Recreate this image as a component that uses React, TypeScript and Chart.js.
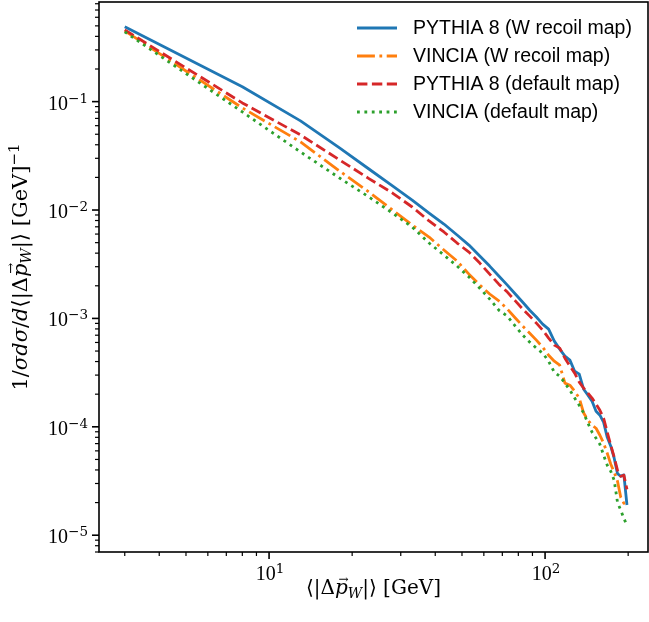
import React, { useEffect, useRef } from 'react';
import { Chart, registerables } from 'chart.js';

Chart.register(...registerables);

// ---------- data ----------
const xValues = [3, 8, 13, 18, 23, 28, 33, 38, 43, 48, 53, 58, 63, 68, 73, 78, 83, 88, 93, 98,
  103, 108, 113, 118, 123, 128, 133, 138, 143, 148, 153, 158, 163, 168, 173, 178, 183, 188, 193, 198];

const pythiaWRecoil = [0.49, 0.137, 0.0664, 0.0374, 0.0239, 0.0167, 0.01236, 0.00938, 0.00743, 0.00588,
  0.00475, 0.00376, 0.00304, 0.00246, 0.00203, 0.00168, 0.00141, 0.00119, 0.00103, 8.85e-4,
  7.96e-4, 6.17e-4, 5.21e-4, 4.49e-4, 4.12e-4, 3.26e-4, 3.06e-4, 2.22e-4, 1.96e-4, 1.72e-4,
  1.39e-4, 1.28e-4, 1.1e-4, 8.0e-5, 6.62e-5, 5.13e-5, 3.7e-5, 3.5e-5, 3.6e-5, 1.9e-5];

const vinciaWRecoil = [0.45, 0.0875, 0.0425, 0.0229, 0.01466, 0.01, 0.00727, 0.00563, 0.00428, 0.00338,
  0.00256, 0.00203, 0.00168, 0.00145, 0.00122, 0.00101, 8.49e-4, 7.31e-4, 6.31e-4, 5.43e-4,
  4.58e-4, 4.03e-4, 3.7e-4, 2.53e-4, 2.42e-4, 2.13e-4, 1.84e-4, 1.34e-4, 1.15e-4, 1.035e-4,
  9.7e-5, 8.36e-5, 7.06e-5, 5.7e-5, 4.52e-5, 3.81e-5, 3.15e-5, 2.24e-5, 1.97e-5, 2.06e-5];

const pythiaDefault = [0.459, 0.0973, 0.0493, 0.029, 0.0195, 0.01435, 0.01066, 0.00792, 0.00627, 0.00496,
  0.00409, 0.00324, 0.00256, 0.00207, 0.00175, 0.00145, 0.00122, 0.00105, 9.05e-4, 7.8e-4,
  6.58e-4, 5.67e-4, 5.32e-4, 4.3e-4, 3.63e-4, 3.13e-4, 2.58e-4, 2.27e-4, 2.04e-4, 1.84e-4,
  1.62e-4, 1.42e-4, 1.2e-4, 8.91e-5, 6.76e-5, 5.24e-5, 3.97e-5, 3.5e-5, 3.57e-5, 2.65e-5];

const vinciaDefault = [0.44, 0.0803, 0.0343, 0.01974, 0.01318, 0.00938, 0.00697, 0.00496, 0.00384, 0.00304,
  0.00241, 0.0019, 0.00151, 0.00119, 0.00105, 8.49e-4, 7.01e-4, 6.04e-4, 5.32e-4, 4.79e-4,
  4.03e-4, 3.19e-4, 2.93e-4, 2.53e-4, 2.18e-4, 1.84e-4, 1.58e-4, 1.34e-4, 1.08e-4, 8.91e-5,
  7.85e-5, 6.9e-5, 5.47e-5, 4.42e-5, 3.89e-5, 3.21e-5, 2.01e-5, 1.7e-5, 1.43e-5, 1.23e-5];

const seriesLabels = ['PYTHIA 8 (W recoil map)', 'VINCIA (W recoil map)', 'PYTHIA 8 (default map)', 'VINCIA (default map)'];

// tick labels: base and exponent
const xMajorTicks = [10, 100];
const xMajorExponents = ['1', '2'];
const yMajorTicks = [1e-5, 1e-4, 1e-3, 1e-2, 1e-1];
const yMajorExponents = ['−5', '−4', '−3', '−2', '−1'];

// ---------- styles ----------
const W = 649;
const H = 622;
const LW = 2.8;
const seriesColors = ['#1f77b4', '#ff7f0e', '#d62728', '#2ca02c'];
const seriesDash: number[][] = [[], [17.9, 4.5, 2.8, 4.5], [10.4, 4.5], [2.8, 4.6]];
const SERIF = '"Liberation Serif", "DejaVu Serif", serif';
const DSERIF = '"DejaVu Serif", serif';
const SANS = '"Liberation Sans", Arial, sans-serif';

type Seg = { t: string; italic?: boolean; size: number; dy: number; arrow?: boolean; family?: string };

function segFont(s: Seg) {
  return `${s.italic ? 'italic ' : ''}${s.size}px ${s.family || DSERIF}`;
}

function measureRich(ctx: CanvasRenderingContext2D, segs: Seg[]) {
  return segs.map((s) => {
    ctx.font = segFont(s);
    return ctx.measureText(s.t).width;
  });
}

function drawRichAt(ctx: CanvasRenderingContext2D, segs: Seg[], startX: number, baseline: number) {
  const widths = measureRich(ctx, segs);
  let x = startX;
  ctx.textAlign = 'left';
  ctx.textBaseline = 'alphabetic';
  segs.forEach((s, i) => {
    ctx.font = segFont(s);
    ctx.fillText(s.t, x, baseline + s.dy);
    if (s.arrow) {
      ctx.font = `${Math.round(s.size * 0.6)}px ${DSERIF}`;
      ctx.textAlign = 'center';
      ctx.fillText('→', x + widths[i] / 2 + 2, baseline + s.dy - s.size * 0.55);
      ctx.textAlign = 'left';
    }
    x += widths[i];
  });
}

function drawRich(ctx: CanvasRenderingContext2D, segs: Seg[], cx: number, baseline: number) {
  const total = measureRich(ctx, segs).reduce((a, b) => a + b, 0);
  drawRichAt(ctx, segs, cx - total / 2, baseline);
}

const xTitleSegs: Seg[] = [
  { t: '⟨|Δ', size: 20, dy: 0 },
  { t: 'p', italic: true, size: 20, dy: 0, arrow: true },
  { t: 'W', italic: true, size: 14, dy: 4 },
  { t: '|⟩ [GeV]', size: 20, dy: 0 },
];

const yTitleSegs: Seg[] = [
  { t: '1/', size: 21, dy: 0 },
  { t: 'σdσ', italic: true, size: 21, dy: 0 },
  { t: '/', size: 21, dy: 0 },
  { t: 'd', italic: true, size: 21, dy: 0 },
  { t: '⟨|Δ', size: 21, dy: 0 },
  { t: 'p', italic: true, size: 21, dy: 0, arrow: true },
  { t: 'W', italic: true, size: 15, dy: 4 },
  { t: '|⟩ [GeV]', size: 21, dy: 0 },
  { t: '−1', size: 15, dy: -8 },
];

function tickLabelSegs(exp: string): Seg[] {
  return [
    { t: '10', size: 20, dy: 0, family: SERIF },
    { t: exp, size: 13.5, dy: -7, family: DSERIF },
  ];
}

const decorPlugin = {
  id: 'mplDecor',
  afterDraw(chart: any) {
    const { ctx, chartArea: a, scales } = chart;
    ctx.save();
    ctx.strokeStyle = '#000';
    ctx.fillStyle = '#000';
    const tickInfo = (v: number) => {
      const e = Math.floor(Math.log10(v) + 1e-9);
      const sig = v / Math.pow(10, e);
      const r = Math.round(sig);
      if (Math.abs(sig - r) > 1e-6) return null;
      return r === 1 || r === 10 ? 'major' : 'minor';
    };
    for (const t of scales.x.ticks) {
      const kind = tickInfo(t.value);
      if (!kind) continue;
      const px = scales.x.getPixelForValue(t.value);
      if (px < a.left - 0.5 || px > a.right + 0.5) continue;
      ctx.lineWidth = kind === 'major' ? 1.6 : 1.2;
      ctx.beginPath();
      ctx.moveTo(px, a.bottom);
      ctx.lineTo(px, a.bottom + (kind === 'major' ? 7 : 4));
      ctx.stroke();
    }
    for (const t of scales.y.ticks) {
      const kind = tickInfo(t.value);
      if (!kind) continue;
      const py = scales.y.getPixelForValue(t.value);
      if (py < a.top - 0.5 || py > a.bottom + 0.5) continue;
      ctx.lineWidth = kind === 'major' ? 1.6 : 1.2;
      ctx.beginPath();
      ctx.moveTo(a.left, py);
      ctx.lineTo(a.left - (kind === 'major' ? 7 : 4), py);
      ctx.stroke();
    }
    // frame
    ctx.lineWidth = 1.6;
    ctx.strokeRect(a.left, a.top, a.right - a.left, a.bottom - a.top);

    // tick labels
    xMajorTicks.forEach((v, i) => {
      const px = scales.x.getPixelForValue(v);
      drawRich(ctx, tickLabelSegs(xMajorExponents[i]), px + 1, a.bottom + 28);
    });
    yMajorTicks.forEach((v, i) => {
      const py = scales.y.getPixelForValue(v);
      const segs = tickLabelSegs(yMajorExponents[i]);
      const total = measureRich(ctx, segs).reduce((p, q) => p + q, 0);
      drawRichAt(ctx, segs, a.left - 11 - total, py + 8);
    });

    // axis titles
    drawRich(ctx, xTitleSegs, (a.left + a.right) / 2, 594);
    ctx.save();
    ctx.translate(27, 267);
    ctx.rotate(-Math.PI / 2);
    drawRich(ctx, yTitleSegs, 0, 0);
    ctx.restore();

    // legend
    const rowY = [28, 56, 84, 112];
    chart.data.datasets.forEach((ds: any, i: number) => {
      const y = rowY[i];
      ctx.save();
      ctx.strokeStyle = ds.borderColor;
      ctx.lineWidth = ds.borderWidth;
      ctx.lineCap = 'butt';
      ctx.setLineDash(ds.borderDash || []);
      ctx.beginPath();
      ctx.moveTo(357, y);
      ctx.lineTo(397, y);
      ctx.stroke();
      ctx.restore();
      ctx.font = `19.5px ${SANS}`;
      ctx.textAlign = 'left';
      ctx.textBaseline = 'middle';
      ctx.fillStyle = '#000';
      ctx.fillText(ds.label, 413, y + 1);
    });
    ctx.restore();
  },
};

export default function App() {
  const ref = useRef<HTMLCanvasElement | null>(null);

  useEffect(() => {
    if (!ref.current) return;
    const seriesValues = [pythiaWRecoil, vinciaWRecoil, pythiaDefault, vinciaDefault];
    const drawOrder = [3, 2, 1, 0];
    const chart = new Chart(ref.current, {
      type: 'line',
      data: {
        datasets: seriesValues.map((vals, i) => ({
          label: seriesLabels[i],
          data: xValues.map((x, j) => ({ x, y: vals[j] })),
          borderColor: seriesColors[i],
          backgroundColor: seriesColors[i],
          borderWidth: LW,
          borderDash: seriesDash[i],
          borderCapStyle: 'butt' as const,
          borderJoinStyle: 'round' as const,
          pointRadius: 0,
          pointHoverRadius: 0,
          tension: 0,
          fill: false,
          order: drawOrder[i],
        })),
      },
      options: {
        responsive: false,
        animation: false,
        devicePixelRatio: 1,
        layout: { padding: { top: 2, right: 1, left: 0, bottom: 0 } },
        plugins: {
          legend: { display: false },
          tooltip: { enabled: false },
          title: { display: false },
        },
        scales: {
          x: {
            type: 'logarithmic',
            min: 2.42,
            max: 236,
            grid: { display: false, drawTicks: false },
            border: { display: false },
            ticks: { display: false, autoSkip: false },
            afterFit: (s: any) => {
              s.height = 70;
              s.paddingLeft = 0;
              s.paddingRight = 0;
            },
          },
          y: {
            type: 'logarithmic',
            min: 7e-6,
            max: 0.83,
            grid: { display: false, drawTicks: false },
            border: { display: false },
            ticks: { display: false, autoSkip: false },
            afterFit: (s: any) => {
              s.width = 99;
              s.paddingTop = 0;
              s.paddingBottom = 0;
            },
          },
        },
      },
      plugins: [decorPlugin],
    });
    return () => chart.destroy();
  }, []);

  return (
    <div style={{ position: 'absolute', left: 0, top: 0, width: W, height: H, background: '#fff' }}>
      <canvas ref={ref} width={W} height={H} style={{ width: W, height: H, display: 'block' }} />
    </div>
  );
}
